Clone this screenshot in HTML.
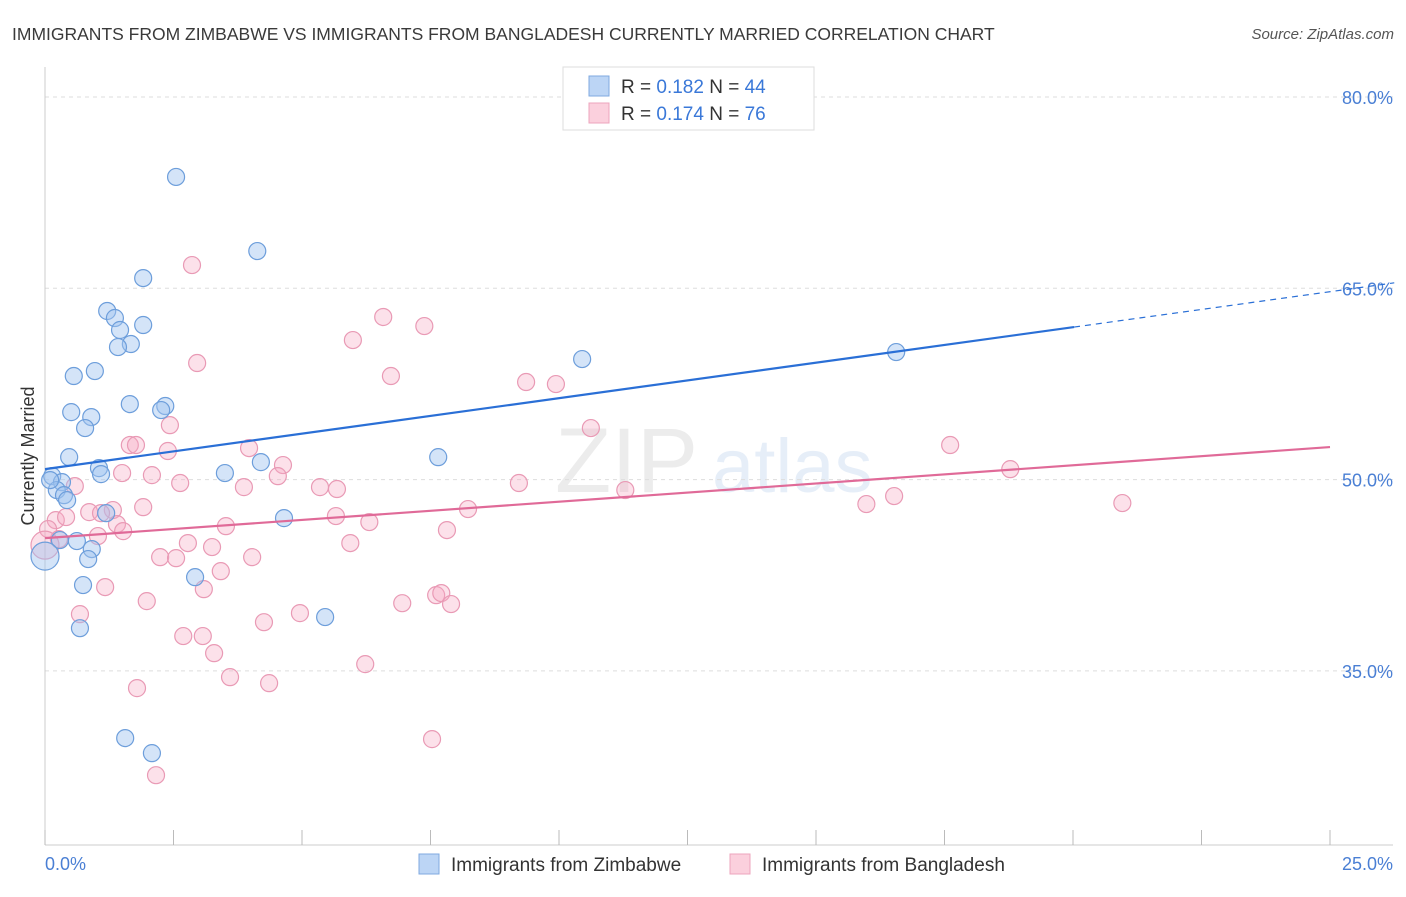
<!DOCTYPE html>
<html><head><meta charset="utf-8"><style>
body{margin:0;background:#fff;font-family:"Liberation Sans",sans-serif;}
svg text{font-family:"Liberation Sans",sans-serif;}
</style></head><body>
<svg id="chart" width="1406" height="892" xmlns="http://www.w3.org/2000/svg">
<text x="12" y="40" font-size="17.5" fill="#3a3a3a">IMMIGRANTS FROM ZIMBABWE VS IMMIGRANTS FROM BANGLADESH CURRENTLY MARRIED CORRELATION CHART</text>
<text x="1394" y="39" font-size="15" font-style="italic" fill="#555" text-anchor="end">Source: ZipAtlas.com</text>
<g opacity="0.18">
<text x="555" y="492" font-size="92" font-family="Liberation Serif" fill="#999">ZIP</text>
<text x="712" y="492" font-size="76" fill="#7aa6dd">atlas</text>
</g>
<g id="grid"></g>
<g id="axes"></g>
<g id="pts"></g>
<g id="lines"></g>
<g>
<rect x="563" y="67" width="251" height="63" fill="#fff" stroke="#ddd"/>
<rect x="589" y="76" width="20" height="20" fill="#bcd5f5" stroke="#7fa9e0"/>
<rect x="589" y="103" width="20" height="20" fill="#fbd0dd" stroke="#eca5bd"/>
<text x="621" y="93" font-size="19" fill="#333">R = <tspan fill="#3a78d8">0.182</tspan>   N = <tspan fill="#3a78d8">44</tspan></text>
<text x="621" y="120" font-size="19" fill="#333">R = <tspan fill="#3a78d8">0.174</tspan>   N = <tspan fill="#3a78d8">76</tspan></text>
</g>
<g>
<rect x="419" y="854" width="20" height="20" fill="#bcd5f5" stroke="#7fa9e0"/>
<text x="451" y="871" font-size="19" fill="#333">Immigrants from Zimbabwe</text>
<rect x="730" y="854" width="20" height="20" fill="#fbd0dd" stroke="#eca5bd"/>
<text x="762" y="871" font-size="19" fill="#333">Immigrants from Bangladesh</text>
</g>
<text transform="translate(34,456) rotate(-90)" font-size="18" fill="#333" text-anchor="middle">Currently Married</text>
</svg>
<script>
const yTicks=[80,65,50,35];
const xTickLabels=["0.0%","25.0%"];
const blueX=[2.55,4.13,1.91,1.21,1.36,1.91,1.46,1.67,1.42,10.45,16.56,0.56,0.97,1.65,0.51,2.34,2.26,0.90,0.78,0.47,7.65,4.20,1.05,1.09,3.50,0.14,0.33,0.23,0.37,0.43,1.19,4.65,0.29,0.62,0.91,0.84,2.92,0.74,5.45,0.68,1.56,2.08,0,0.10];
const blueY=[73.73,67.92,65.8,63.22,62.67,62.12,61.73,60.63,60.39,59.45,60.0,58.12,58.51,55.92,55.29,55.77,55.45,54.9,54.04,51.76,51.76,51.37,50.9,50.43,50.51,50.27,49.8,49.18,48.78,48.39,47.37,46.98,45.26,45.18,44.55,43.77,42.35,41.73,39.22,38.35,29.73,28.55,44.0,49.96];
const pinkX=[2.86,6.58,7.38,5.99,2.96,6.73,9.36,9.94,10.62,2.43,1.65,1.77,3.97,17.61,18.78,2.39,4.63,1.50,2.08,4.53,0.58,2.63,3.87,5.35,5.68,9.22,11.29,16.52,20.96,15.98,1.91,0.86,1.32,1.09,8.23,0.21,0.41,1.40,5.66,6.31,3.52,1.52,0.06,1.03,7.82,0.27,2.78,3.25,5.94,2.24,2.55,4.03,3.42,1.17,3.09,7.61,7.71,7.90,6.95,1.98,0.68,4.96,4.26,2.69,3.07,3.29,6.23,3.60,4.36,1.79,7.53,2.16,0];
const pinkY=[66.82,62.75,62.04,60.94,59.14,58.12,57.65,57.49,54.04,54.27,52.71,52.71,52.47,52.71,50.82,52.24,51.14,50.51,50.35,50.27,49.49,49.73,49.41,49.41,49.26,49.73,49.18,48.71,48.16,48.08,47.84,47.45,47.61,47.37,47.69,46.82,47.06,46.51,47.14,46.67,46.35,45.96,46.12,45.57,46.04,45.33,45.02,44.71,45.02,43.92,43.84,43.92,42.82,41.57,41.41,40.94,41.1,40.24,40.31,40.47,39.45,39.53,38.82,37.73,37.73,36.39,35.53,34.51,34.04,33.65,29.65,26.82,44.86];
const blueTrend=[50.82,0.5565];
const pinkTrend=[45.41,0.2856];
const NS="http://www.w3.org/2000/svg";
const sx=v=>45+v/25*1285;
const sy=v=>97+(80-v)*12.753;
function mk(t,a,p){const e=document.createElementNS(NS,t);for(const k in a)e.setAttribute(k,a[k]);p.appendChild(e);return e;}
const grid=document.getElementById('grid'),axes=document.getElementById('axes'),pts=document.getElementById('pts'),lines=document.getElementById('lines');
yTicks.forEach(v=>{
 const l=mk('line',{x1:45,x2:1393,y1:sy(v),y2:sy(v),stroke:'#ddd','stroke-dasharray':'4,4'},grid);
 
 
 const t=mk('text',{x:1393,y:sy(v)+7,'font-size':18,fill:'#4a7fd4','text-anchor':'end'},axes);
 t.textContent=v.toFixed(1)+'%';
 
 
});
mk('line',{x1:45,x2:45,y1:67,y2:845,stroke:'#ccc'},axes);
mk('line',{x1:45,x2:1393,y1:845,y2:845,stroke:'#ccc'},axes);
for(let i=0;i<=10;i++){const x=sx(i*2.5);const tk=mk('line',{x1:x,x2:x,y1:830,y2:845,stroke:'#bbb'},axes);}
const xl0=mk('text',{x:45,y:870,'font-size':18,fill:'#4a7fd4'},axes);xl0.textContent=xTickLabels[0];


const xl1=mk('text',{x:1393,y:870,'font-size':18,fill:'#4a7fd4','text-anchor':'end'},axes);xl1.textContent=xTickLabels[1];


function pt(x,y,f,s,r){const c=mk('circle',{cx:sx(x),cy:sy(y),r:r,fill:f,stroke:s,'stroke-width':1.2},pts);return c;}
pinkX.forEach((x,i)=>{const c=pt(x,pinkY[i],'rgba(245,170,195,0.35)','#e99ab5',i===pinkX.length-1?14:8.5);
 
 });
blueX.forEach((x,i)=>{const c=pt(x,blueY[i],'rgba(160,196,240,0.45)','#6d9edb',i===42?14:8.5);
 
 });
const bl=mk('line',{x1:sx(0),y1:sy(blueTrend[0]),x2:sx(20.02),y2:sy(blueTrend[0]+blueTrend[1]*20.02),stroke:'#2a6fd6','stroke-width':2.2},lines);


const bd=mk('line',{x1:sx(20.02),y1:sy(blueTrend[0]+blueTrend[1]*20.02),x2:sx(26.25),y2:sy(blueTrend[0]+blueTrend[1]*26.25),stroke:'#2a6fd6','stroke-width':1.2,'stroke-dasharray':'6,5'},lines);


const pl=mk('line',{x1:sx(0),y1:sy(pinkTrend[0]),x2:sx(25),y2:sy(pinkTrend[0]+pinkTrend[1]*25),stroke:'#e06a98','stroke-width':2.2},lines);


</script>
</body></html>
